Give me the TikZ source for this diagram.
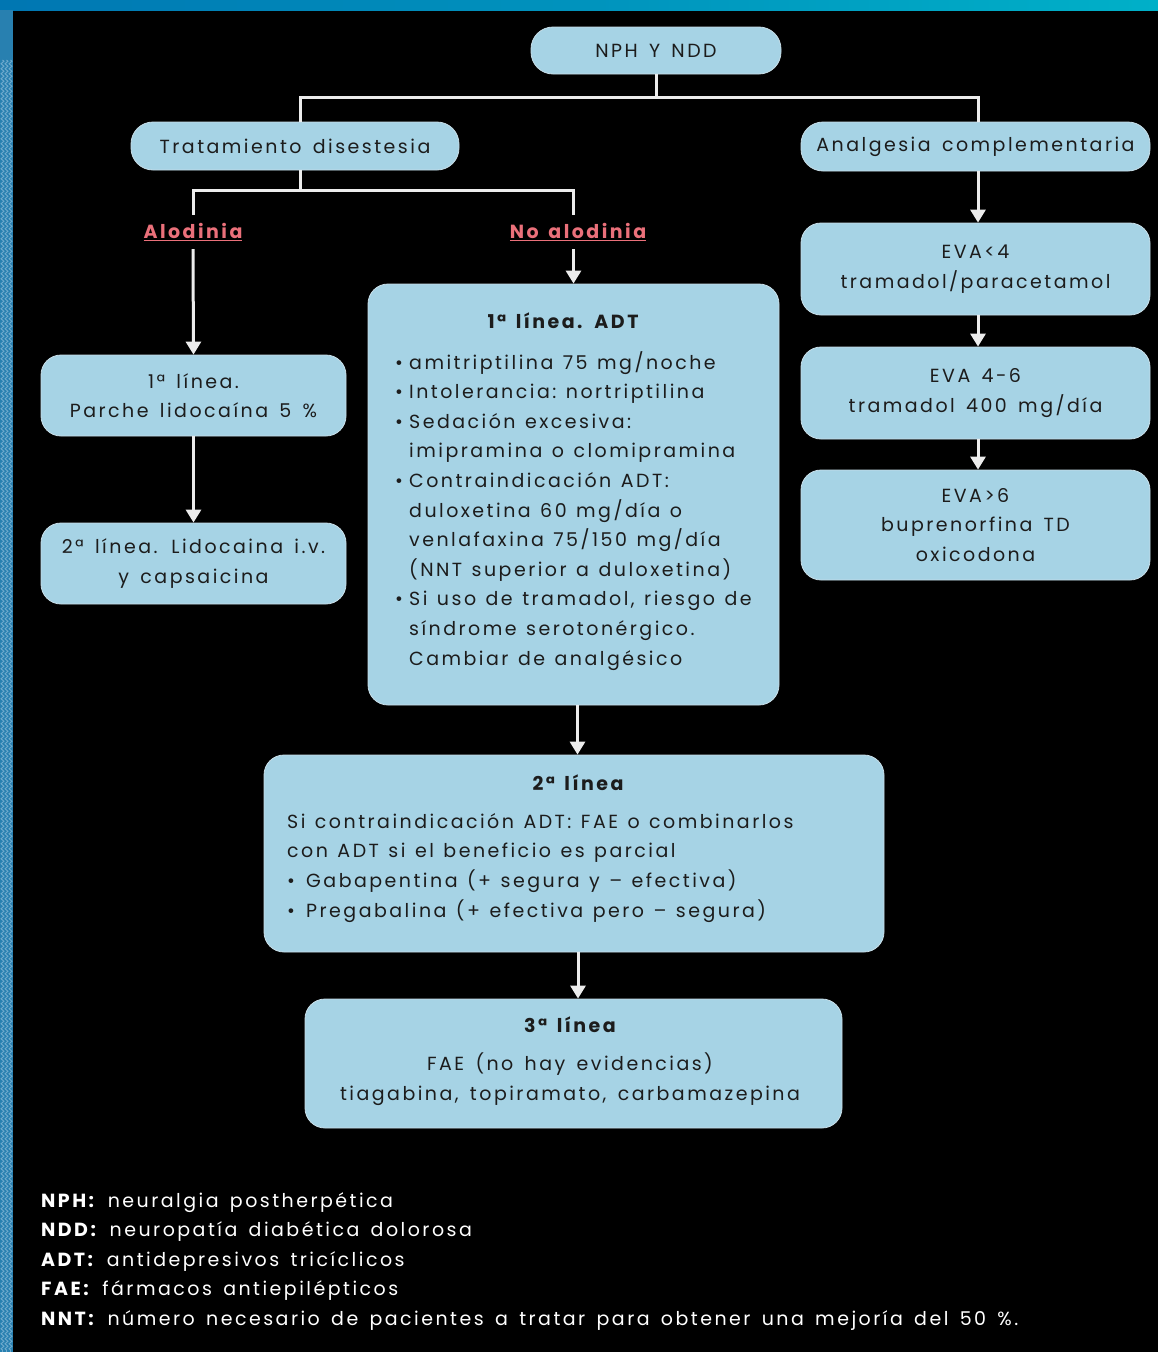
\documentclass[tikz,border=0pt]{standalone}
\usepackage{fontspec}
\setmainfont{Poppins}[LetterSpace=13,WordSpace=1.5]
\usetikzlibrary{arrows.meta,decorations.pathmorphing}
\definecolor{boxfill}{RGB}{166,211,229}
\definecolor{boxedge}{RGB}{200,222,232}
\definecolor{txt}{RGB}{28,28,28}
\definecolor{pinkred}{RGB}{234,112,122}
\definecolor{linecol}{RGB}{236,236,236}
\definecolor{barL}{RGB}{0,118,178}
\definecolor{barR}{RGB}{0,176,200}
\definecolor{strip}{RGB}{40,128,176}
\definecolor{stripline}{RGB}{110,170,205}
\newcommand{\bul}{\makebox[14pt][l]{\textbullet}}
\newcommand{\bulw}{\makebox[19pt][l]{\textbullet}}
\newcommand{\cont}{\hspace*{14pt}}
\newcommand{\widesp}{\spaceskip=9.5pt\relax}
\begin{document}
\begin{tikzpicture}[x=1pt,y=-1pt,
  box/.style={draw=boxedge, line width=0.8pt, fill=boxfill, rounded corners=20pt,
    text=txt, font=\fontsize{19}{29.6}\selectfont, align=center, inner sep=0pt},
  boxtext/.style={text=txt, font=\fontsize{19}{29.6}\selectfont, inner sep=0pt},
  title/.style={text=txt, font=\bfseries\fontsize{19}{22}\selectfont, inner sep=0pt},
  conn/.style={draw=linecol, line width=3pt},
  arr/.style={conn, -{Triangle[width=15pt,length=13pt]}},
  lab/.style={text=pinkred, font=\bfseries\fontsize{19}{22}\selectfont, inner sep=0pt, minimum height=34pt},
  legend/.style={text=white, font=\fontsize{19}{29.5}\selectfont, inner sep=0pt, align=left}
]
\useasboundingbox (0,0) rectangle (1158,1352);
% background frame
\fill[black] (0,0) rectangle (1158,1352);
\shade[left color=barL, right color=barR] (0,0) rectangle (1158,10);
\fill[strip] (0,10) rectangle (13,1352);
\foreach \xx in {2.5,6.5,10.5}
  \draw[stripline, line width=0.9pt, decorate, decoration={zigzag, segment length=5pt, amplitude=1.5pt}] (\xx,60) -- (\xx,1352);

% nodes
\node[box, rounded corners=22pt, minimum width=250pt, minimum height=47pt] (nph) at (656,50.5) {NPH Y NDD};
\node[box, rounded corners=22pt, minimum width=328pt, minimum height=48pt] (trat) at (295,146) {Tratamiento disestesia};
\node[box, rounded corners=22pt, minimum width=349pt, minimum height=49pt] (anal) at (975.5,146.5) {Analgesia complementaria};

\node[lab] (alo) at (193,232) {\underline{Alodinia}};
\node[lab] (noalo) at (578,232) {\underline{No alodinia}};

\node[box, minimum width=305pt, minimum height=81pt] (l1) at (193.5,395.5) {1ª línea.\\Parche lidocaína 5 \%};
\node[box, minimum width=305pt, minimum height=81pt] (l2) at (193.5,563.5) {2ª línea. Lidocaina i.v.\\y capsaicina};

\node[box, minimum width=411pt, minimum height=421pt] (adt) at (573.5,494.5) {};
\node[title] (adttitle) at (563,321) {1ª línea. ADT};
\node[boxtext, anchor=north west, text width=500pt, align=left] (adtlist) at (395,351) {\widesp
\bul amitriptilina 75 mg/noche\\
\bul Intolerancia: nortriptilina\\
\bul Sedación excesiva:\\
\cont imipramina o clomipramina\\
\bul Contraindicación ADT:\\
\cont duloxetina 60 mg/día o\\
\cont venlafaxina 75/150 mg/día\\
\cont (NNT superior a duloxetina)\\
\bul Si uso de tramadol, riesgo de\\
\cont síndrome serotonérgico.\\
\cont Cambiar de analgésico};

\node[box, minimum width=620pt, minimum height=197pt] (s2) at (574,853.5) {};
\node[title] (s2title) at (578,783) {2ª línea};
\node[boxtext, anchor=north west, text width=600pt, align=left] (s2text) at (287,813) {\widesp
Si contraindicación ADT: FAE o combinarlos\\
con ADT si el beneficio es parcial\\
\bulw Gabapentina (+ segura y – efectiva)\\
\bulw Pregabalina (+ efectiva pero – segura)};

\node[box, minimum width=537pt, minimum height=129pt] (s3) at (573.5,1063.5) {};
\node[title] (s3title) at (570,1025) {3ª línea};
\node[boxtext, align=center] (s3text) at (570,1079) {FAE (no hay evidencias)\\tiagabina, topiramato, carbamazepina};

\node[box, minimum width=349pt, minimum height=92pt] (e1) at (975.5,269) {EVA<4\\tramadol/paracetamol};
\node[box, minimum width=349pt, minimum height=92pt] (e2) at (975.5,393) {EVA 4-6\\tramadol 400 mg/día};
\node[box, minimum width=349pt, minimum height=110pt] (e3) at (975.5,525) {EVA>6\\buprenorfina TD\\oxicodona};

\node[legend, anchor=north west] (leg) at (41,1192) {%
\textbf{NPH:} neuralgia postherpética\\
\textbf{NDD:} neuropatía diabética dolorosa\\
\textbf{ADT:} antidepresivos tricíclicos\\
\textbf{FAE:} fármacos antiepilépticos\\
\textbf{NNT:} número necesario de pacientes a tratar para obtener una mejoría del 50 \%.};

% connectors
\coordinate (j1) at (656,97);
\coordinate (j2) at (300,190);
\draw[conn] (nph.south) -- (j1);
\draw[conn] ([xshift=5pt]trat.north) |- (j1) -| ([xshift=2.5pt]anal.north);
\draw[conn] ([xshift=5pt]trat.south) -- (j2);
\draw[conn] (alo.north) |- (j2) -| ([xshift=-5pt]noalo.north);
\draw[arr] (alo.south) -- (l1.north);
\draw[arr] (l1.south) -- (l2.north);
\draw[arr] (noalo.south -| adt.north) -- (adt.north);
\draw[arr] ([xshift=4pt]adt.south) -- ([xshift=4pt]adt.south |- s2.north);
\draw[arr] ([xshift=4pt]s2.south) -- ([xshift=4pt]s2.south |- s3.north);
\draw[arr] ([xshift=2.5pt]anal.south) -- ([xshift=2.5pt]e1.north);
\draw[arr] ([xshift=2.5pt]e1.south) -- ([xshift=2.5pt]e2.north);
\draw[arr] ([xshift=2.5pt]e2.south) -- ([xshift=2.5pt]e3.north);
\end{tikzpicture}
\end{document}
